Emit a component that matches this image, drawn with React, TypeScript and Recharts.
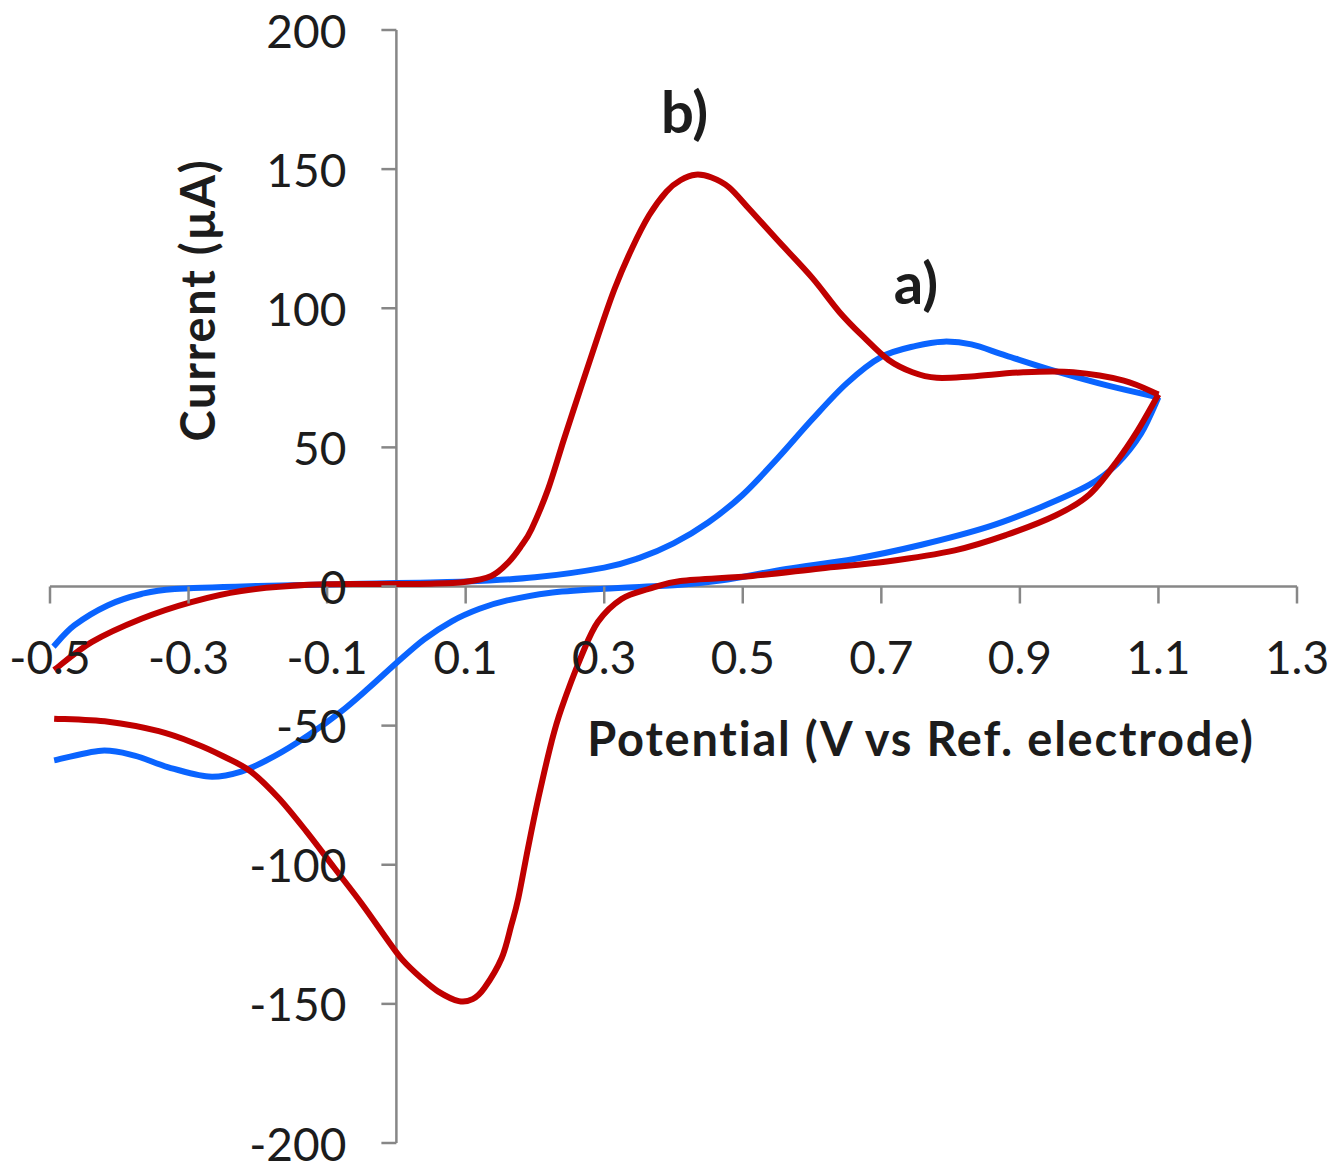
import { Line, LineChart, ReferenceDot, ReferenceLine, XAxis, YAxis } from "recharts";

// cyclic voltammograms: [potential V, current µA]
// each scan is split into forward (anodic) and reverse (cathodic) branch, both sorted by potential
const curveAForward: [number, number][] = [
  [-0.495, -21.6], [-0.465, -14], [-0.417, -6.8], [-0.368, -2.7], [-0.32, -0.9],
  [-0.2, 0.2], [-0.05, 1], [0.1, 1.8], [0.2, 3.3], [0.3, 6.8], [0.35, 10.2],
  [0.4, 15.5], [0.45, 23], [0.5, 33], [0.55, 46], [0.6, 60], [0.65, 73],
  [0.7, 82.5], [0.75, 86.5], [0.79, 88], [0.83, 87], [0.88, 83], [0.95, 77.5],
  [1.03, 72], [1.1, 68],
];
const curveAReverse: [number, number][] = [
  [-0.494, -62.5], [-0.426, -59], [-0.378, -60.8], [-0.329, -65], [-0.271, -68.3],
  [-0.224, -66.5], [-0.176, -61], [-0.127, -53.5], [-0.08, -45], [-0.04, -36.5],
  [0, -27.5], [0.04, -19], [0.08, -12.5], [0.12, -8], [0.16, -5], [0.22, -2.3],
  [0.3, -0.8], [0.41, 0.6], [0.47, 2.2], [0.563, 6.3], [0.661, 9.9], [0.758, 15],
  [0.855, 21.5], [0.93, 28.5], [1.0, 36.5], [1.04, 44], [1.075, 55], [1.1, 68],
];
const curveBForward: [number, number][] = [
  [-0.494, -30], [-0.44, -20], [-0.368, -11.6], [-0.296, -5.6], [-0.224, -1.6],
  [-0.127, 0.6], [-0.03, 0.9], [0.05, 1], [0.098, 1.6], [0.137, 3.8], [0.162, 8.8],
  [0.18, 14.5], [0.195, 20.6], [0.219, 35], [0.242, 53], [0.267, 72], [0.291, 90],
  [0.315, 107], [0.34, 121.5], [0.365, 133.5], [0.39, 142], [0.41, 146], [0.432, 148],
  [0.455, 147], [0.48, 143.5], [0.51, 135.5], [0.55, 124.5], [0.6, 111], [0.64, 98.5],
  [0.675, 89.5], [0.71, 81.5], [0.745, 77], [0.78, 75], [0.83, 75.5], [0.905, 77],
  [0.977, 77], [1.05, 74], [1.1, 69],
];
const curveBReverse: [number, number][] = [
  [-0.494, -47.5], [-0.416, -48.6], [-0.343, -52], [-0.29, -56.5], [-0.25, -61],
  [-0.21, -66.5], [-0.17, -76], [-0.13, -88], [-0.09, -101], [-0.05, -114],
  [-0.01, -128], [0.01, -134.5], [0.035, -140.5], [0.06, -145.5], [0.09, -149],
  [0.11, -148.3], [0.127, -144.3], [0.152, -133.5], [0.166, -121.6], [0.176, -112],
  [0.19, -94], [0.205, -76], [0.224, -55.8], [0.238, -44], [0.267, -25], [0.291, -12.7],
  [0.325, -4.5], [0.364, -0.9], [0.41, 2], [0.514, 3.8], [0.612, 6.5], [0.708, 9],
  [0.806, 13], [0.88, 18.5], [0.952, 25.6], [1.0, 33], [1.04, 45], [1.07, 56], [1.1, 69],
];

const potentialTicks = [-0.5, -0.3, -0.1, 0.1, 0.3, 0.5, 0.7, 0.9, 1.1, 1.3];
const currentTicks = [-200, -150, -100, -50, 0, 50, 100, 150, 200];

// curve labels: [text, potential, current]
const curveLabels: [string, number, number][] = [
  ["b)", 0.416, 171],
  ["a)", 0.75, 109.5],
];

const BLUE = "#0a64ff";
const RED = "#c00000";
const AXIS = "#878787";
const INK = "#1c1c1c";
const FONT = "Lato, 'Open Sans', sans-serif";

const toPoints = (pairs: [number, number][]) => pairs.map(([x, y]) => ({ x, y }));

// Excel-like "smoothed line": Catmull-Rom through every point, as a d3 curve factory
function smoothCurve(context: any) {
  let pts: number[][] = [];
  return {
    areaStart() {},
    areaEnd() {},
    lineStart() {
      pts = [];
    },
    point(x: number, y: number) {
      pts.push([+x, +y]);
    },
    lineEnd() {
      if (!pts.length) return;
      context.moveTo(pts[0][0], pts[0][1]);
      for (let i = 0; i < pts.length - 1; i++) {
        const p0 = pts[i - 1] || pts[i];
        const p1 = pts[i];
        const p2 = pts[i + 1];
        const p3 = pts[i + 2] || p2;
        const k = 1 / 6;
        context.bezierCurveTo(
          p1[0] + (p2[0] - p0[0]) * k,
          p1[1] + (p2[1] - p0[1]) * k,
          p2[0] - (p3[0] - p1[0]) * k,
          p2[1] - (p3[1] - p1[1]) * k,
          p2[0],
          p2[1],
        );
      }
    },
  };
}

function XTick({ cx, cy, text }: { cx?: number; cy?: number; text: string }) {
  if (cx == null || cy == null) return <g />;
  return (
    <g>
      <line x1={cx} y1={cy} x2={cx} y2={cy + 17} stroke={AXIS} strokeWidth={2.5} />
      <text x={cx} y={cy + 70} textAnchor="middle" dominantBaseline="central"
        fontFamily={FONT} fontSize={46} fill={INK}>
        {text}
      </text>
    </g>
  );
}

function YTick({ cx, cy, text }: { cx?: number; cy?: number; text: string }) {
  if (cx == null || cy == null) return <g />;
  return (
    <g>
      <line x1={cx - 15} y1={cy} x2={cx} y2={cy} stroke={AXIS} strokeWidth={2.5} />
      <text x={cx - 50} y={cy} textAnchor="end" dominantBaseline="central"
        fontFamily={FONT} fontSize={46} fill={INK}>
        {text}
      </text>
    </g>
  );
}

function CurveLabel({ cx, cy, text }: { cx?: number; cy?: number; text: string }) {
  if (cx == null || cy == null) return <g />;
  return (
    <text x={cx} y={cy} textAnchor="middle" dominantBaseline="central"
      fontFamily={FONT} fontWeight={700} fontSize={58} fill={INK}>
      {text}
    </text>
  );
}

const titleStyle: React.CSSProperties = {
  position: "absolute",
  fontFamily: FONT,
  fontWeight: 700,
  fontSize: 47,
  letterSpacing: 1.8,
  color: INK,
  whiteSpace: "nowrap",
  transform: "translate(-50%, -50%)",
};

export default function App() {
  const branches = [
    { key: "aF", data: toPoints(curveAForward), color: BLUE },
    { key: "aR", data: toPoints(curveAReverse), color: BLUE },
    { key: "bF", data: toPoints(curveBForward), color: RED },
    { key: "bR", data: toPoints(curveBReverse), color: RED },
  ];

  return (
    <div style={{ margin: -8, width: 1344, height: 1171, position: "relative", background: "#fff" }}>
      <LineChart width={1344} height={1171} margin={{ top: 30, right: 47, bottom: 28, left: 50 }}>
        <XAxis dataKey="x" type="number" domain={[-0.5, 1.3]} allowDataOverflow hide />
        <YAxis type="number" domain={[-200, 200]} allowDataOverflow hide />
        <ReferenceLine y={0} stroke={AXIS} strokeWidth={2.5} />
        <ReferenceLine x={0} stroke={AXIS} strokeWidth={2.5} />
        {potentialTicks.map((t) => (
          <ReferenceDot key={`x${t}`} x={t} y={0} r={0} ifOverflow="visible"
            shape={(p: any) => <XTick cx={p.cx} cy={p.cy} text={String(t)} />} />
        ))}
        {currentTicks.map((t) => (
          <ReferenceDot key={`y${t}`} x={0} y={t} r={0} ifOverflow="visible"
            shape={(p: any) => <YTick cx={p.cx} cy={p.cy} text={String(t)} />} />
        ))}
        {branches.map((b) => (
          <Line key={b.key} data={b.data} dataKey="y" type={smoothCurve as any} stroke={b.color}
            strokeWidth={6} strokeLinejoin="round" dot={false} activeDot={false}
            isAnimationActive={false} />
        ))}
        {curveLabels.map(([text, x, y]) => (
          <ReferenceDot key={text} x={x} y={y} r={0} ifOverflow="visible"
            shape={(p: any) => <CurveLabel cx={p.cx} cy={p.cy} text={text} />} />
        ))}
      </LineChart>
      <div style={{ ...titleStyle, left: 921, top: 738 }}>Potential (V vs Ref. electrode)</div>
      <div style={{ ...titleStyle, left: 197, top: 300, transform: "translate(-50%, -50%) rotate(-90deg)" }}>
        Current (µA)
      </div>
    </div>
  );
}
